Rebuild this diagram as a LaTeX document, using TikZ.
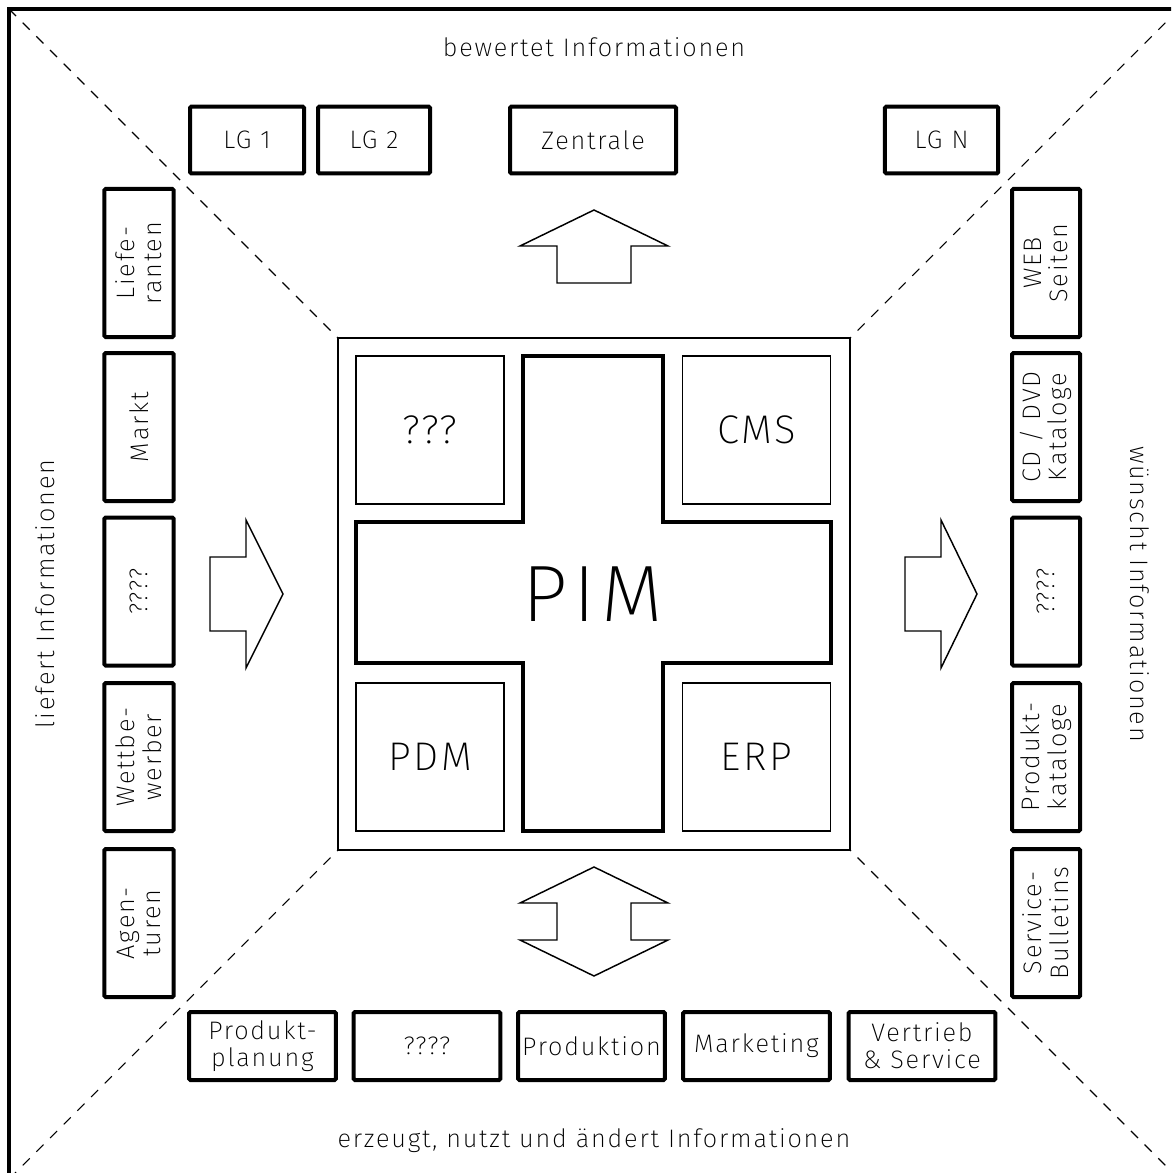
\documentclass[tikz,border=0pt]{standalone}
\usepackage{fontspec}
\IfFontExistsTF{Fira Sans ExtraLight}
  {\setmainfont{Fira Sans ExtraLight}[LetterSpace=7]}
  {\setmainfont{Fira Sans Light}[LetterSpace=7]}
\begin{document}
\begin{tikzpicture}[x=0.75pt,y=-0.75pt,
  frameline/.style={line width=3pt},
  diag/.style={line width=0.8pt, dash pattern=on 7.5pt off 7pt},
  box/.style={draw, line width=3pt, rounded corners=1pt, align=center,
    inner sep=0pt, font=\fontsize{19}{20}\selectfont},
  hbox/.style={box, minimum height=50pt},
  vbox/.style={box, rotate=90, minimum width=111pt, minimum height=52pt},
  bbox/.style={box, minimum width=110pt, minimum height=51pt},
  sysbox/.style={draw, line width=1pt, minimum size=111pt, inner sep=0pt,
    font=\fontsize{30}{32}\selectfont},
  thinshape/.style={line width=1.1pt, line join=miter},
  side/.style={font=\fontsize{19}{20}\selectfont, inner sep=0pt}]
\useasboundingbox (0,0) rectangle (1171,1173);
\clip (0,0) rectangle (1171,1173);

% outer frame and diagonals
\draw[frameline] (9,1190) -- (9,9) -- (1190,9);
\coordinate (c1) at (9,9);
\coordinate (c2) at (1179,9);
\coordinate (c3) at (1179,1179);
\coordinate (c4) at (9,1179);

% central frame
\draw[line width=1pt] (338,338) rectangle (850,850);
\coordinate (s1) at (338,338);
\coordinate (s2) at (850,338);
\coordinate (s3) at (850,850);
\coordinate (s4) at (338,850);
\draw[diag] (c1) -- (s1);
\draw[diag] (c2) -- (s2);
\draw[diag] (c3) -- (s3);
\draw[diag] (c4) -- (s4);

% systems
\node[sysbox] (q3) at (430,430) {???};
\node[sysbox] (cms) at (756.5,430) {CMS};
\node[sysbox] (pdm) at (430,757) {PDM};
\node[sysbox] (erp) at (756.5,757) {ERP};

% PIM cross
\draw[line width=3pt] (523,356) -- (663,356) -- (663,522) -- (831,522) -- (831,663)
  -- (663,663) -- (663,831) -- (523,831) -- (523,663) -- (356,663) -- (356,522)
  -- (523,522) -- cycle;
\node[font=\fontsize{60}{60}\selectfont, inner sep=0pt] (pim) at (593,594) {PIM};

% top side
\node[side] (tlab) at (594,47) {bewertet Informationen};
\node[hbox, minimum width=85.5pt] (lg1) at (247,140) {LG 1};
\node[hbox, minimum width=84pt] (lg2) at (374,140) {LG 2};
\node[hbox, minimum width=124.5pt] (zen) at (593,140) {Zentrale};
\node[hbox, minimum width=85pt] (lgn) at (941.5,140) {LG N};

% left side
\node[side, rotate=90] (llab) at (45,594) {liefert Informationen};
\node[vbox] (lief) at (139,263) {Liefe-\\ranten};
\node[vbox] (markt) at (139,427) {Markt};
\node[vbox] (lq) at (139,591.5) {????};
\node[vbox] (wett) at (139,757) {Wettbe-\\werber};
\node[vbox] (agen) at (139,923) {Agen-\\turen};

% right side
\node[side, rotate=-90] (rlab) at (1140,594) {wünscht Informationen};
\node[vbox, minimum height=51pt] (web) at (1046,263) {WEB\\Seiten};
\node[vbox, minimum height=51pt] (cd) at (1046,427) {CD / DVD\\Kataloge};
\node[vbox, minimum height=51pt] (rq) at (1046,591.5) {????};
\node[vbox, minimum height=51pt] (prodk) at (1046,757) {Produkt-\\kataloge};
\node[vbox, minimum height=51pt] (serv) at (1046,923) {Service-\\Bulletins};

% bottom side
\node[side] (blab) at (594,1141) {erzeugt, nutzt und ändert Informationen};
\node[bbox] (pplan) at (262.5,1046) {Produkt-\\planung};
\node[bbox] (bq) at (427,1046) {????};
\node[bbox] (prod) at (591.5,1046) {Produktion};
\node[bbox] (mark) at (756.5,1046) {Marketing};
\node[bbox] (vert) at (922,1046) {Vertrieb\\\& Service};

% flow arrows
\draw[thinshape] (594,210) -- (668,246) -- (631,246) -- (631,283) -- (557,283)
  -- (557,246) -- (520,246) -- cycle;
\draw[thinshape] (283,594) -- (246,668) -- (246,631) -- (210,631) -- (210,557)
  -- (246,557) -- (246,520) -- cycle;
\draw[thinshape] (977,594) -- (941,668) -- (941,631) -- (905,631) -- (905,557)
  -- (941,557) -- (941,520) -- cycle;
\draw[thinshape] (594,867) -- (668,903) -- (631,903) -- (631,940) -- (668,940)
  -- (594,976) -- (520,940) -- (557,940) -- (557,903) -- (520,903) -- cycle;
\end{tikzpicture}
\end{document}
